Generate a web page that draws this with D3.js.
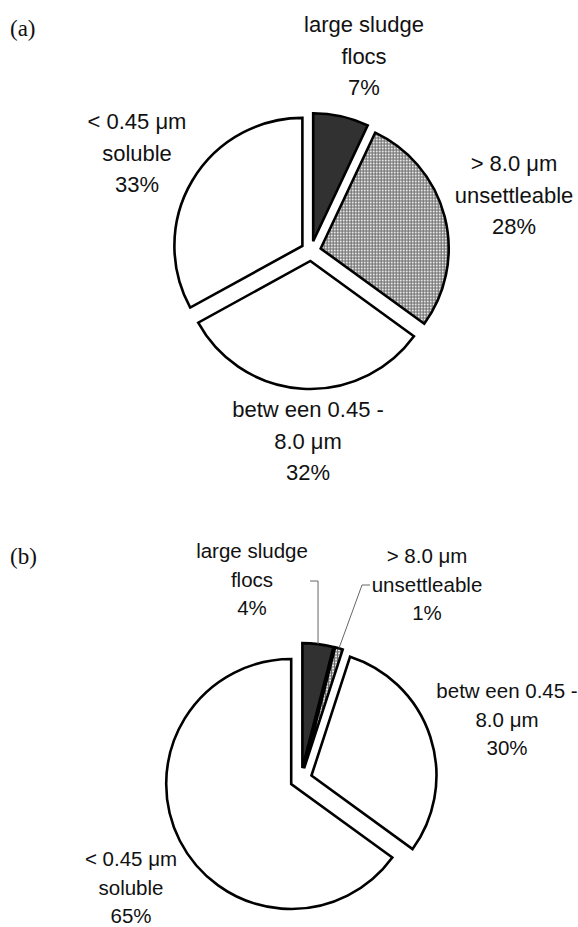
<!DOCTYPE html>
<html>
<head>
<meta charset="utf-8">
<script src="https://cdn.jsdelivr.net/npm/d3@7/dist/d3.min.js"></script>
<style>
  body { margin: 0; background: #fff; }
  svg text { font-family: "Liberation Sans", Arial, sans-serif; fill: #111; }
  svg text.tag { font-family: "Liberation Serif", "Times New Roman", serif; }
</style>
</head>
<body>
<svg id="chart" width="578" height="927"></svg>
<script>
// fractions, clockwise from 12 o'clock
const categories = ["flocs", "unsettleable", "between", "soluble"];
const labelLines = [
    ["large sludge", "flocs"],
    ["> 8.0 \u03bcm", "unsettleable"],
    ["betw een 0.45 -", "8.0 \u03bcm"],
    ["< 0.45 \u03bcm", "soluble"]
];
const valuesA = [7, 28, 32, 33];
const valuesB = [4, 1, 30, 65];

const fills = {
    flocs: "#313131",
    unsettleable: "url(#dots)",
    between: "#ffffff",
    soluble: "#ffffff"
};

// label anchor (centre x, first baseline) per slice
const panels = [
    {
        tag: "(a)", tagX: 10, tagY: 36,
        values: valuesA, cx: 311, cy: 251, r: 128, explode: 10,
        font: 22, gap: 31.5,
        labels: [[364, 32], [514, 171], [308, 417], [137, 129]],
        leaders: [null, null, null, null]
    },
    {
        tag: "(b)", tagX: 10, tagY: 564,
        values: valuesB, cx: 301, cy: 779, r: 125, explode: 11,
        font: 20.5, gap: 28.5,
        labels: [[252, 558], [427, 563], [507, 698], [131, 866]],
        leaders: [{x0: 310, y: 581, x1: null}, {x0: 370, y: 585, x1: 362}, null, null]
    }
];

let svg = d3.select("#chart");

let defs = svg.append("defs");
let dots = defs.append("pattern")
    .attr("id", "dots")
    .attr("patternUnits", "userSpaceOnUse")
    .attr("width", 3)
    .attr("height", 3);
dots.append("rect").attr("width", 3).attr("height", 3).attr("fill", "#e8e8e8");
dots.append("rect").attr("width", 3).attr("height", 1).attr("fill", "#6a6a6a");
dots.append("rect").attr("width", 1).attr("height", 3).attr("fill", "#6a6a6a");

svg.append("rect").attr("width", 578).attr("height", 927).attr("fill", "#fff");

let pie = d3.pie().sort(null).value(d => d);

panels.forEach(p => {
    let arcs = pie(p.values);
    let arc = d3.arc().innerRadius(0).outerRadius(p.r);

    svg.append("text")
        .attr("class", "tag")
        .attr("x", p.tagX)
        .attr("y", p.tagY)
        .style("font-size", "23px")
        .text(p.tag);

    let g = svg.append("g")
        .attr("transform", "translate(" + p.cx + "," + p.cy + ")");

    let offset = d => {
        let a = (d.startAngle + d.endAngle) / 2;
        return [Math.sin(a) * p.explode, -Math.cos(a) * p.explode];
    };

    g.selectAll("path.slice")
        .data(arcs)
        .enter().append("path")
        .attr("class", "slice")
        .attr("transform", d => "translate(" + offset(d) + ")")
        .attr("d", arc)
        .attr("fill", (d, i) => fills[categories[i]])
        .attr("stroke", "#000")
        .attr("stroke-width", 2.6)
        .attr("stroke-linejoin", "miter");

    // leader lines for the thin slices
    arcs.forEach((d, i) => {
        let L = p.leaders[i];
        if (!L) return;
        let a = (d.startAngle + d.endAngle) / 2;
        let ax = p.cx + Math.sin(a) * (p.r + p.explode);
        let ay = p.cy - Math.cos(a) * (p.r + p.explode);
        let x1 = L.x1 === null ? ax : L.x1;
        svg.append("path")
            .attr("d", "M" + L.x0 + "," + L.y + "L" + x1 + "," + L.y + "L" + ax + "," + ay)
            .attr("fill", "none")
            .attr("stroke", "#666")
            .attr("stroke-width", 1);
    });

    arcs.forEach((d, i) => {
        let pos = p.labels[i];
        let t = svg.append("text")
            .attr("text-anchor", "middle")
            .style("font-size", p.font + "px");
        labelLines[i].concat([d.data + "%"]).forEach((line, k) => {
            t.append("tspan")
                .attr("x", pos[0])
                .attr("y", pos[1] + k * p.gap)
                .text(line);
        });
    });
});
</script>
</body>
</html>
